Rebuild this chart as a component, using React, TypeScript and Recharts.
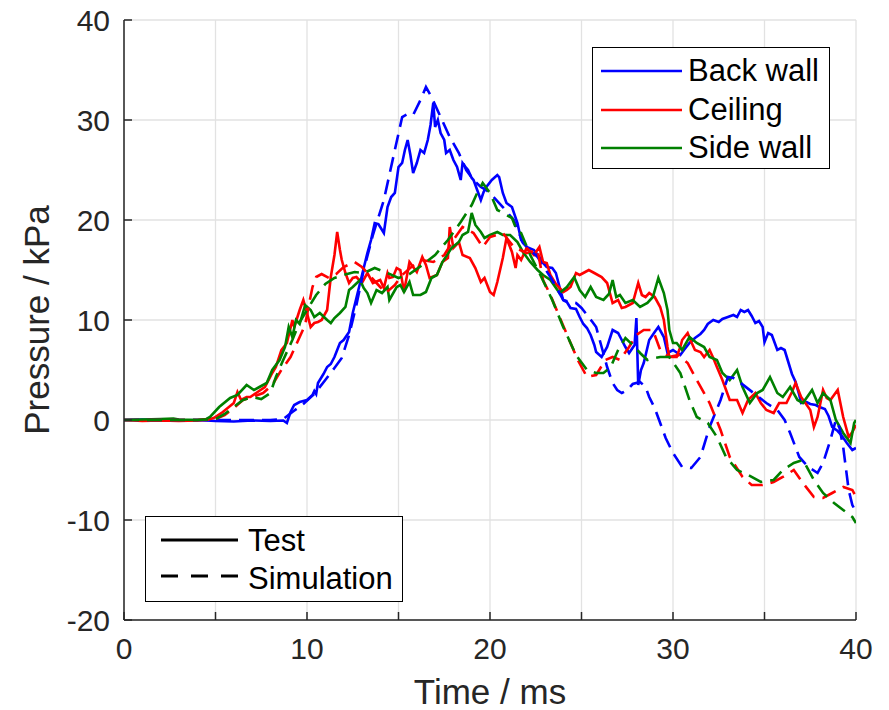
import React from "react";
import {
  LineChart,
  Line,
  XAxis,
  YAxis,
  CartesianGrid,
  Legend,
} from "recharts";

// pressure traces, [time in ms, pressure in kPa]
const backWallTest = [
  [0, 0], [1, 0.05], [2, 0], [3, -0.05], [4, 0], [5, -0.1], [6, -0.15], [7, -0.05], [8, -0.1],
  [8.7, -0.05], [8.9, -0.3], [9.1, 0.8], [9.3, 1.5], [9.6, 1.8], [10.0, 2.0], [10.3, 2.5],
  [10.4, 2.9], [10.5, 2.6], [10.6, 3.7], [10.9, 4.6], [11.1, 5.3], [11.3, 5.6], [11.5, 6.3],
  [11.8, 7.7], [12.0, 8.0], [12.3, 8.8], [12.5, 10.7], [12.7, 12.2], [12.9, 13.7], [13.1, 15.2],
  [13.3, 16.7], [13.5, 18], [13.7, 19.7], [13.9, 19.6], [14.0, 19.3], [14.2, 18.7], [14.4, 21.3],
  [14.6, 22.3], [14.8, 22.7], [15.0, 25.3], [15.2, 25.7], [15.35, 27], [15.5, 28], [15.65, 26.5],
  [15.8, 24.7], [16.0, 25.7], [16.2, 27], [16.4, 26.7], [16.6, 28], [16.75, 29.5], [16.9, 31.7],
  [17.0, 29.3], [17.15, 30], [17.3, 28.7], [17.5, 28], [17.6, 26.7], [17.8, 27], [18.0, 26],
  [18.2, 25.3], [18.4, 24], [18.5, 25.7], [18.7, 25.2], [18.8, 25], [19.0, 24.2], [19.1, 24],
  [19.3, 23], [19.5, 22], [19.65, 22.8], [19.8, 23.3], [20.1, 24], [20.4, 24.5], [20.5, 24.3],
  [20.7, 22.7], [20.9, 21.7], [21.2, 21.3], [21.5, 19.7], [21.7, 18], [22.0, 17.3], [22.4, 17],
  [22.7, 16.3], [22.9, 15.7], [23.1, 15.3], [23.4, 15.2], [23.6, 14.7], [23.8, 13.3], [24.0, 12],
  [24.2, 11.8], [24.4, 11.2], [24.7, 11.1], [24.9, 10.3], [25.1, 9.6], [25.3, 9.2], [25.5, 8.5],
  [25.7, 7.5], [25.8, 6.8], [26.1, 6.3], [26.4, 7.3], [26.7, 9], [27.0, 8.7], [27.2, 8],
  [27.4, 7.3], [27.6, 6.7], [27.9, 7.5], [28.0, 10.2], [28.1, 3.5], [28.25, 5], [28.4, 5.7],
  [28.7, 8], [29.0, 8.8], [29.2, 9.3], [29.5, 8.3], [29.7, 6.7], [30.0, 7], [30.4, 6.5],
  [30.6, 7], [30.9, 7.7], [31.2, 8.2], [31.5, 8.6], [31.7, 9], [31.9, 9.6], [32.2, 10],
  [32.5, 9.8], [32.7, 10.1], [33.0, 10.3], [33.3, 10.5], [33.5, 10.3], [33.7, 11], [33.9, 10.8],
  [34.1, 11], [34.3, 10.4], [34.5, 9.7], [34.7, 9.9], [34.9, 9.3], [35.0, 7.8], [35.2, 8.7],
  [35.4, 8.5], [35.7, 7], [35.9, 7.2], [36.1, 7], [36.3, 5.8], [36.5, 4.6], [36.7, 3.8],
  [36.9, 2.5], [37.0, 1.7], [37.3, 1.8], [37.5, 1.6], [37.8, 1.5], [38.0, 1.3], [38.3, 1.1],
  [38.5, 0.4], [38.7, -0.7], [39.0, -1.1], [39.2, -1.5], [39.5, -2.3], [39.8, -3], [40, -2.8],
];

const backWallSim = [
  [0, 0], [2, 0], [4, 0], [6, 0], [8, 0], [8.7, 0.1], [9.2, 0.8], [9.8, 1.6], [10.4, 2.6],
  [11.0, 4.0], [11.5, 5.2], [11.9, 6.2], [12.3, 8.5], [12.7, 11.5], [13.1, 15], [13.6, 18.5],
  [14.2, 22], [14.8, 27], [15.2, 30.3], [15.5, 30.6], [15.8, 30.5], [16.2, 32], [16.5, 33.3],
  [16.8, 32.3], [17.3, 30.3], [17.8, 28.3], [18.3, 26.7], [18.7, 25], [19.1, 24], [19.5, 23.3],
  [19.8, 23], [20.2, 22.3], [20.7, 21.3], [21.3, 20], [21.8, 17.7], [22.2, 17], [22.6, 16.3],
  [23.3, 14.3], [24.0, 12], [24.4, 11.8], [24.7, 11.7], [25.0, 11.2], [25.3, 10.5], [25.6, 9.8],
  [25.8, 9.3], [26.1, 7.3], [26.4, 5.3], [26.7, 3.7], [26.95, 3.0], [27.2, 2.7], [27.5, 3.0],
  [27.8, 3.6], [28.2, 3.8], [28.5, 3.3], [28.7, 2.3], [29.0, 1.2], [29.3, -0.3], [29.6, -1.8],
  [30.0, -3.3], [30.5, -4.7], [31.0, -4.8], [31.5, -3.7], [32.0, -0.7], [32.6, 2], [33.0, 4.3],
  [33.3, 4.2], [33.7, 3.7], [34.4, 2.7], [35.1, 1.7], [35.7, 1], [36.1, 0], [36.4, -1.3],
  [36.9, -3.7], [37.4, -4.7], [37.9, -5.3], [38.2, -4.3], [38.6, -2], [38.9, 0], [39.1, -0.8],
  [39.3, -2.7], [39.6, -7], [39.8, -8.5], [40, -9.2],
];

const ceilingTest = [
  [0, 0], [1, -0.1], [2, -0.05], [3, -0.1], [4, -0.05], [4.5, 0], [4.9, 0.2], [5.4, 0.8],
  [6.0, 1.7], [6.2, 2.8], [6.4, 2], [6.7, 2.3], [6.9, 2.3], [7.3, 2.8], [7.7, 3.3], [8.1, 4.7],
  [8.3, 5.3], [8.6, 7], [8.9, 7.7], [9.1, 9.2], [9.2, 10], [9.3, 9.3], [9.6, 11], [9.8, 12],
  [10.0, 10.7], [10.2, 9.3], [10.4, 9.7], [10.6, 9.8], [10.8, 10], [11.1, 11], [11.3, 14.3],
  [11.5, 16.5], [11.65, 18.8], [11.8, 17], [11.9, 16], [12.1, 14.7], [12.3, 13.7], [12.5, 14.2],
  [12.7, 14.3], [13.0, 13.7], [13.3, 14.7], [13.6, 13.7], [14.0, 14], [14.2, 13.2], [14.4, 14.7],
  [14.5, 14.2], [14.7, 14.3], [14.9, 15.2], [15.1, 15], [15.3, 12.8], [15.6, 15.8], [15.8, 15.3],
  [16.0, 14.8], [16.3, 16.3], [16.5, 15.5], [16.7, 14.2], [17.1, 14.5], [17.4, 15.8], [17.7, 16.2],
  [17.8, 19.3], [18.0, 17.2], [18.3, 17.8], [18.5, 16.5], [18.9, 16.2], [19.2, 15.2], [19.5, 13.8],
  [19.7, 14.2], [20.0, 12.8], [20.2, 12.5], [20.4, 13.8], [20.7, 16.2], [20.9, 18.2], [21.2, 16.8],
  [21.4, 15.2], [21.5, 16.5], [21.7, 16], [22.0, 17.2], [22.4, 16.5], [22.7, 17.3], [22.9, 15.8],
  [23.1, 15.7], [23.3, 14.5], [23.6, 13.6], [24.0, 12.8], [24.2, 13], [24.4, 13.3], [24.7, 14.7],
  [24.9, 14.5], [25.1, 14.7], [25.4, 15], [25.7, 14.7], [26.1, 14.3], [26.4, 13.7], [26.7, 11.7],
  [27.0, 12], [27.2, 11.2], [27.4, 11.3], [27.8, 11.7], [28.1, 13.7], [28.3, 12.5], [28.5, 12.3],
  [28.7, 12.7], [29.0, 12.3], [29.3, 11.3], [29.5, 10], [29.7, 7.3], [29.8, 6.3], [30.2, 6.3],
  [30.4, 7.3], [30.5, 8], [30.8, 8.7], [31.0, 7.8], [31.2, 7], [31.5, 6.8], [31.7, 6.3], [32.0, 7],
  [32.2, 6.2], [32.4, 5.3], [32.7, 4], [32.9, 3], [33.1, 2], [33.5, 2], [33.8, 0.7], [34.1, 2],
  [34.5, 2.7], [34.8, 1.7], [35.1, 1], [35.5, 0.7], [35.8, 1.7], [36.2, 1.7], [36.5, 2.8],
  [36.7, 3.7], [37.0, 2.3], [37.5, 1], [37.7, -0.7], [37.9, 0.3], [38.2, 3], [38.4, 2.2],
  [38.6, 2], [39.0, 3], [39.3, 0.3], [39.6, -1.7], [39.8, -1.2], [40, -0.5],
];

const ceilingSim = [
  [0, 0], [2, 0], [4, 0], [5, 0.1], [5.5, 0.5], [6.0, 1.2], [6.5, 2], [7.0, 2.3], [7.6, 2.7],
  [8.1, 3.5], [8.6, 5], [9.1, 6.3], [9.6, 8.3], [9.9, 9.5], [10.1, 11.5], [10.3, 13.3],
  [10.5, 14.3], [10.8, 14.6], [11.2, 14.2], [11.6, 14.6], [12.0, 15.3], [12.6, 15.8], [13.0, 15.3],
  [13.5, 14.3], [14.0, 13.3], [14.3, 12.7], [14.8, 13.5], [15.2, 14.5], [15.7, 15.3], [16.3, 16],
  [16.9, 15.8], [17.5, 16.5], [18.0, 18], [18.5, 19.3], [19.1, 18.7], [19.6, 17.3], [20.0, 18.3],
  [20.7, 18.7], [21.3, 17.3], [22.0, 16.7], [22.6, 17], [22.9, 14], [23.3, 12.5], [23.8, 10.3],
  [24.4, 7.7], [24.8, 6], [25.3, 4.3], [25.8, 4.5], [26.3, 6], [26.7, 6.3], [27.1, 6],
  [27.6, 7.3], [28.0, 8.5], [28.4, 9], [28.9, 9], [29.3, 7], [29.8, 6.3], [30.3, 6.5],
  [30.8, 5.7], [31.3, 4], [32.0, 1.7], [32.6, -1], [33.1, -3.7], [33.8, -5.7], [34.3, -6.5],
  [34.9, -6.5], [35.5, -6.2], [36.0, -5.7], [36.6, -5], [37.1, -6.3], [37.7, -7.7], [38.2, -7.8],
  [38.7, -7.3], [39.3, -6.7], [39.8, -7], [40, -7.7],
];

const sideWallTest = [
  [0, 0], [1, 0.05], [2, 0.1], [2.7, 0.15], [3, 0.05], [4, 0], [4.5, 0.1], [4.7, 0.3], [5.2, 1.3],
  [5.8, 2.2], [6.2, 2.5], [6.7, 3.5], [7.1, 3], [7.4, 3.3], [7.8, 3.7], [8.1, 5], [8.5, 6],
  [8.8, 7.3], [9.0, 9.3], [9.2, 8.3], [9.4, 10], [9.6, 9.6], [9.9, 11.5], [10.2, 11], [10.4, 10.3],
  [10.7, 10.7], [11.1, 10], [11.3, 9.7], [11.5, 10.2], [11.8, 10.7], [12.1, 11.3], [12.3, 13],
  [12.5, 13.3], [12.9, 14], [13.1, 13.2], [13.3, 12.7], [13.5, 11.7], [13.8, 13], [14.1, 12.7],
  [14.4, 13.3], [14.5, 12], [14.9, 13.3], [15.1, 13.5], [15.3, 12.8], [15.6, 13.8], [15.8, 12.5],
  [16.2, 12.5], [16.5, 12.8], [16.8, 14.2], [17.1, 14.5], [17.4, 15.8], [17.9, 17.2], [18.3, 17.8],
  [18.5, 18.5], [18.8, 18.8], [19.0, 20.7], [19.2, 19.5], [19.5, 18.8], [19.7, 18.2], [20.0, 18.5],
  [20.4, 18.8], [20.7, 18.5], [21.1, 18.5], [21.5, 17.8], [21.8, 16.8], [22.2, 15.8], [22.6, 15],
  [22.9, 14.5], [23.3, 14], [23.8, 12.7], [24.2, 13.3], [24.6, 14.3], [24.9, 13], [25.2, 12.3],
  [25.5, 13.3], [25.8, 12.3], [26.2, 12], [26.5, 12.6], [26.7, 14], [26.9, 12.3], [27.1, 12.5],
  [27.4, 11.7], [27.8, 12], [28.2, 11.3], [28.6, 11.7], [28.9, 12.3], [29.2, 14.2], [29.5, 12.7],
  [29.7, 11], [29.8, 9], [30.0, 7.7], [30.2, 7.7], [30.5, 7], [30.9, 8.3], [31.3, 7.7],
  [31.7, 7.3], [32.0, 6.3], [32.4, 6], [32.7, 4.7], [33.1, 4], [33.5, 5], [33.8, 3.3], [34.2, 1.7],
  [34.6, 2.7], [34.9, 3], [35.3, 4.3], [35.7, 2.7], [36.0, 2.3], [36.4, 3.3], [36.8, 2], [37.1, 1.7],
  [37.6, 3], [37.9, 1.7], [38.2, 2.7], [38.6, 2], [38.9, 0], [39.3, -1.3], [39.7, -2.3],
  [39.9, -0.3], [40, 0],
];

const sideWallSim = [
  [0, 0], [2, 0], [4, 0], [5, 0.1], [5.5, 0.6], [6.0, 1.3], [6.5, 2], [7.0, 2.3], [7.5, 2.1],
  [8.0, 2.7], [8.3, 4.3], [8.7, 6], [9.2, 8], [9.6, 9.8], [10.0, 11], [10.5, 12.5], [11.0, 13.6],
  [11.5, 14.2], [12.0, 14.5], [12.6, 14.8], [13.1, 14.7], [13.7, 15.2], [14.4, 14.7], [15.0, 14.2],
  [15.6, 14.6], [16.3, 15.5], [17.0, 16.5], [17.7, 18], [18.4, 19.8], [19.0, 21.5], [19.3, 22.7],
  [19.6, 23.7], [20.0, 22.7], [20.4, 21], [20.8, 20.6], [21.2, 20.2], [21.5, 18.8], [21.7, 18.7],
  [22.2, 16.5], [22.7, 14.7], [23.4, 12], [24.0, 9.3], [24.7, 6.5], [25.3, 5], [25.8, 4.7],
  [26.2, 4.7], [26.6, 5.3], [27.0, 7], [27.4, 8.2], [27.8, 7.5], [28.2, 6.7], [28.6, 6],
  [29.0, 6.2], [29.3, 6.3], [29.8, 6.3], [30.4, 4.7], [30.9, 2], [31.3, 0.3], [31.9, -0.3],
  [32.4, -1.7], [32.9, -3.7], [33.5, -5], [34.1, -5.5], [34.8, -6.2], [35.5, -6], [36.0, -5],
  [36.6, -4.3], [37.1, -4], [37.7, -6], [38.2, -7.3], [38.8, -8.3], [39.3, -9], [39.8, -9.7],
  [40, -10.3],
];

const xTicks = [0, 5, 10, 15, 20, 25, 30, 35, 40];
const yTicks = [-20, -10, 0, 10, 20, 30, 40];

const locations = [
  { name: "Back wall", color: "#0000ff", test: backWallTest, sim: backWallSim },
  { name: "Ceiling", color: "#ff0000", test: ceilingTest, sim: ceilingSim },
  { name: "Side wall", color: "#008000", test: sideWallTest, sim: sideWallSim },
];

const toPoints = (rows: number[][]) => rows.map(([t, p]) => ({ t, p }));

const W = 889;
const H = 710;
const FONT = "'Liberation Sans', Arial, sans-serif";
const AXIS = "#262626";
const DASH = "15 8";

const legendText: React.CSSProperties = {
  position: "absolute",
  fontFamily: FONT,
  fontSize: 31,
  lineHeight: "31px",
  color: "#000",
  whiteSpace: "nowrap",
};

function LegendBoxes() {
  return (
    <div style={{ position: "relative", width: W, height: H, pointerEvents: "none" }}>
      <div
        style={{
          position: "absolute", left: 592, top: 47, width: 238, height: 122,
          border: "1.5px solid #000", background: "#fff", boxSizing: "border-box",
        }}
      >
        {locations.map((loc, i) => (
          <React.Fragment key={loc.name}>
            <svg style={{ position: "absolute", left: 8, top: 19 + i * 38.5 }} width={81} height={8}>
              <line x1={0} y1={4} x2={81} y2={4} stroke={loc.color} strokeWidth={2.5} />
            </svg>
            <span style={{ ...legendText, left: 95, top: 7 + i * 38.5 }}>{loc.name}</span>
          </React.Fragment>
        ))}
      </div>
      <div
        style={{
          position: "absolute", left: 145, top: 516, width: 258, height: 86,
          border: "1.5px solid #000", background: "#fff", boxSizing: "border-box",
        }}
      >
        {["Test", "Simulation"].map((label, i) => (
          <React.Fragment key={label}>
            <svg style={{ position: "absolute", left: 15, top: 19 + i * 36 }} width={77} height={8}>
              <line
                x1={0} y1={4} x2={77} y2={4} stroke="#000" strokeWidth={3}
                strokeDasharray={i === 1 ? "17 13" : undefined}
              />
            </svg>
            <span style={{ ...legendText, left: 102, top: 8 + i * 38 }}>{label}</span>
          </React.Fragment>
        ))}
      </div>
    </div>
  );
}

export default function App() {
  const tickStyle = { fontFamily: FONT, fontSize: 30, fill: AXIS };
  return (
    <div style={{ marginTop: -8, marginLeft: -8, width: W, height: H }}>
      <LineChart width={W} height={H} margin={{ top: 20, right: 33, left: 8, bottom: 10 }}>
        <CartesianGrid stroke="#e2e2e2" strokeWidth={1.3} />
        <XAxis
          type="number"
          dataKey="t"
          domain={[0, 40]}
          ticks={xTicks}
          interval={0}
          allowDataOverflow
          height={80}
          tickSize={-8}
          tickMargin={26}
          tickFormatter={(v: number) => (v % 10 === 0 ? String(v) : "")}
          tick={tickStyle}
          stroke={AXIS}
          strokeWidth={1.5}
          label={{ value: "Time / ms", position: "insideBottom", offset: -4, style: { fontFamily: FONT, fontSize: 35, fill: AXIS } }}
        />
        <XAxis
          xAxisId="top"
          orientation="top"
          type="number"
          dataKey="t"
          domain={[0, 40]}
          ticks={xTicks}
          interval={0}
          height={0}
          tickSize={-8}
          tick={false}
          stroke={AXIS}
          strokeWidth={1.5}
        />
        <YAxis
          type="number"
          domain={[-20, 40]}
          ticks={yTicks}
          interval={0}
          allowDataOverflow
          width={116}
          tickSize={-8}
          tickMargin={22}
          tick={tickStyle}
          stroke={AXIS}
          strokeWidth={1.5}
          label={{
            value: "Pressure / kPa", angle: -90, position: "insideLeft", offset: 29,
            style: { textAnchor: "middle", fontFamily: FONT, fontSize: 35, fill: AXIS },
          }}
        />
        <YAxis
          yAxisId="right"
          orientation="right"
          type="number"
          domain={[-20, 40]}
          ticks={yTicks}
          interval={0}
          width={0}
          tickSize={-8}
          tick={false}
          stroke={AXIS}
          strokeWidth={1.5}
        />
        {locations.map((loc) => (
          <Line
            key={loc.name + "-test"}
            data={toPoints(loc.test)}
            dataKey="p"
            name={loc.name}
            type="linear"
            stroke={loc.color}
            strokeWidth={2.6}
            dot={false}
            activeDot={false}
            isAnimationActive={false}
          />
        ))}
        {locations.map((loc) => (
          <Line
            key={loc.name + "-sim"}
            data={toPoints(loc.sim)}
            dataKey="p"
            name={loc.name + " simulation"}
            type="linear"
            stroke={loc.color}
            strokeWidth={2.6}
            strokeDasharray={DASH}
            dot={false}
            activeDot={false}
            isAnimationActive={false}
          />
        ))}
        <Legend
          layout="vertical"
          align="center"
          verticalAlign="middle"
          wrapperStyle={{ left: 0, top: 0, width: W, height: H }}
          content={() => <LegendBoxes />}
        />
      </LineChart>
    </div>
  );
}
